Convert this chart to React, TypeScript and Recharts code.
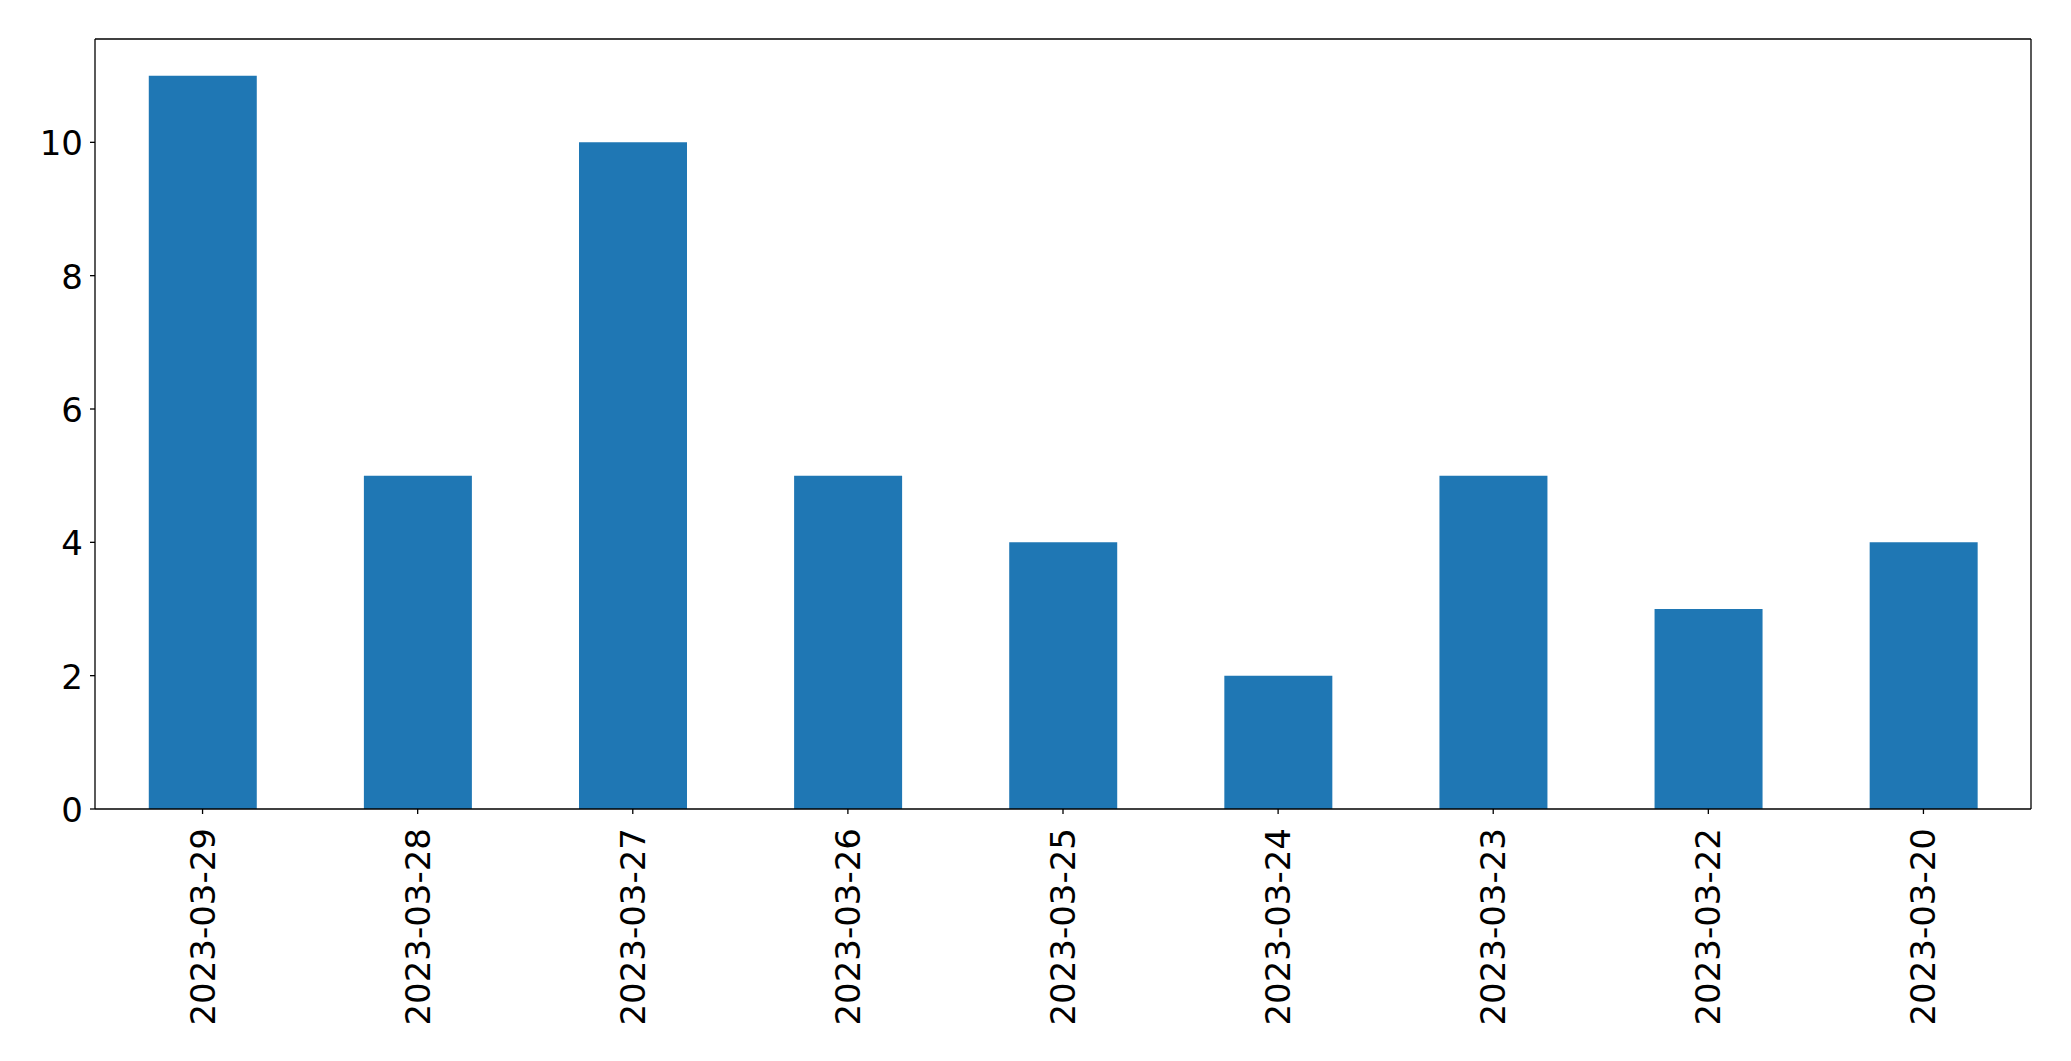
import {BarChart, Bar, XAxis, YAxis, ReferenceLine} from 'recharts';

const dates = ['2023-03-29', '2023-03-28', '2023-03-27', '2023-03-26', '2023-03-25', '2023-03-24', '2023-03-23', '2023-03-22', '2023-03-20'];
const counts = [11, 5, 10, 5, 4, 2, 5, 3, 4];
const yTicks = [0, 2, 4, 6, 8, 10];
const yMax = 11.55;

const data = dates.map((d, i) => ({date: d, count: counts[i]}));

const font = 'DejaVu Sans';

function DateTick(props: any) {
	const {x, y, payload} = props;
	const ty = y + 12;
	return (
		<text
			x={x}
			y={ty}
			transform={`rotate(-90, ${x}, ${ty})`}
			textAnchor="end"
			dominantBaseline="central"
			fontFamily={font}
			fontSize={34}
			fill="#000"
		>
			{payload.value}
		</text>
	);
}

export default function App() {
	return (
		<div style={{position: 'absolute', left: 0, top: 0, background: '#fff'}}>
			<BarChart
				width={2071}
				height={1061}
				data={data}
				barCategoryGap="25%"
				margin={{top: 39, right: 39, left: 0, bottom: 0}}
			>
				<XAxis
					dataKey="date"
					height={252}
					interval={0}
					tick={<DateTick/>}
					tickSize={5}
					axisLine={{stroke: '#000', strokeWidth: 1.3}}
					tickLine={{stroke: '#000', strokeWidth: 1.3}}
				/>
				<YAxis
					width={95}
					domain={[0, yMax]}
					ticks={yTicks}
					tickSize={5}
					tickMargin={7}
					tick={{fontFamily: font, fontSize: 34, fill: '#000', dy: 1}}
					axisLine={{stroke: '#000', strokeWidth: 1.3}}
					tickLine={{stroke: '#000', strokeWidth: 1.3}}
				/>
				<YAxis
					yAxisId="right"
					orientation="right"
					width={1}
					domain={[0, yMax]}
					tick={false}
					tickLine={false}
					axisLine={{stroke: '#000', strokeWidth: 1.3}}
				/>
				<Bar dataKey="count" fill="#1f77b4" isAnimationActive={false}/>
				<ReferenceLine y={yMax} stroke="#000" strokeWidth={1.3}/>
			</BarChart>
		</div>
	);
}
